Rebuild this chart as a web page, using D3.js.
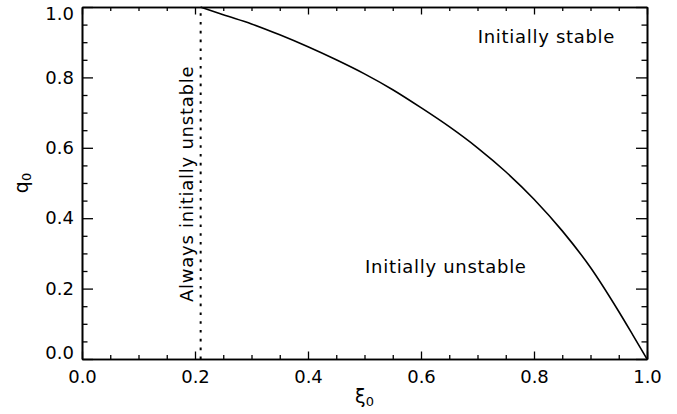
<!DOCTYPE html>
<html>
<head>
<meta charset="utf-8">
<script src="https://cdn.jsdelivr.net/npm/d3@7"></script>
<style>
  body { margin: 0; background: #fff; }
  text { font-family: "DejaVu Sans", sans-serif; fill: #000; }
</style>
</head>
<body>
<div id="chart"></div>
<script>
// Stability boundary q0(xi0)
const xiValues = [0.21, 0.25, 0.30, 0.35, 0.40, 0.45, 0.50, 0.55, 0.60, 0.65, 0.70, 0.75, 0.80, 0.85, 0.90, 0.95, 0.975, 1.00];
const qValues  = [1.00, 0.978, 0.952, 0.921, 0.887, 0.850, 0.810, 0.765, 0.714, 0.660, 0.600, 0.532, 0.454, 0.364, 0.260, 0.135, 0.068, 0.00];

// Vertical "always unstable" limit
const xiLimit = 0.21;

const majorTicks = [0, 0.2, 0.4, 0.6, 0.8, 1.0];
const minorTicks = d3.range(0, 1.0001, 0.05).filter(v => Math.abs(v * 5 - Math.round(v * 5)) > 1e-6);

const regionLabels = [
    {text: "Initially stable", xi: 0.822, q: 0.898},
    {text: "Initially unstable", xi: 0.644, q: 0.245}
];

const W = 677, H = 414;
const margin = {top: 7, right: 30, bottom: 55, left: 82},
    width = W - margin.left - margin.right,
    height = H - margin.top - margin.bottom;

const svg = d3.select("#chart")
    .append("svg")
    .attr("width", W)
    .attr("height", H)
    .append("g")
    .attr("transform", "translate(" + margin.left + "," + margin.top + ")");

const xScale = d3.scaleLinear().domain([0, 1]).range([0, width]);
const yScale = d3.scaleLinear().domain([0, 1]).range([height, 0]);

const fmt = d3.format(".1f");
const xMajor = 7.5, xMinor = 4, yMajor = 11, yMinor = 5.5;

// Bottom axis (labels) + minor
svg.append("g")
    .attr("transform", "translate(0," + height + ")")
    .call(d3.axisBottom(xScale).tickValues(majorTicks).tickFormat(fmt)
        .tickSizeInner(-xMajor).tickSizeOuter(0).tickPadding(11));
svg.append("g")
    .attr("transform", "translate(0," + height + ")")
    .call(d3.axisBottom(xScale).tickValues(minorTicks).tickFormat("")
        .tickSizeInner(-xMinor).tickSizeOuter(0));

// Top axis (no labels)
svg.append("g")
    .call(d3.axisTop(xScale).tickValues(majorTicks).tickFormat("")
        .tickSizeInner(-xMajor).tickSizeOuter(0));
svg.append("g")
    .call(d3.axisTop(xScale).tickValues(minorTicks).tickFormat("")
        .tickSizeInner(-xMinor).tickSizeOuter(0));

// Left axis (labels) + minor
const left = svg.append("g")
    .call(d3.axisLeft(yScale).tickValues(majorTicks).tickFormat(fmt)
        .tickSizeInner(-yMajor).tickSizeOuter(0).tickPadding(8));
svg.append("g")
    .call(d3.axisLeft(yScale).tickValues(minorTicks).tickFormat("")
        .tickSizeInner(-yMinor).tickSizeOuter(0));

// Right axis (no labels)
svg.append("g")
    .attr("transform", "translate(" + width + ",0)")
    .call(d3.axisRight(yScale).tickValues(majorTicks).tickFormat("")
        .tickSizeInner(-yMajor).tickSizeOuter(0));
svg.append("g")
    .attr("transform", "translate(" + width + ",0)")
    .call(d3.axisRight(yScale).tickValues(minorTicks).tickFormat("")
        .tickSizeInner(-yMinor).tickSizeOuter(0));

svg.selectAll(".domain").attr("stroke", "#000").attr("stroke-width", 1.6);
svg.selectAll(".tick line").attr("stroke", "#000").attr("stroke-width", 1.3);
svg.selectAll(".tick text")
    .style("font-family", "DejaVu Sans, sans-serif")
    .style("font-size", "18px")
    .attr("fill", "#000");

// keep end labels of the y axis inside the frame height
left.selectAll(".tick text")
    .attr("dy", d => d === 1 ? "0.68em" : d === 0 ? "-0.04em" : "0.32em");

// Dotted vertical line
svg.append("line")
    .attr("x1", xScale(xiLimit))
    .attr("x2", xScale(xiLimit))
    .attr("y1", yScale(0))
    .attr("y2", yScale(1))
    .attr("stroke", "#000")
    .attr("stroke-width", 2)
    .attr("stroke-dasharray", "2.6,6.2");

// Boundary curve
const line = d3.line()
    .x((d, i) => xScale(xiValues[i]))
    .y(d => yScale(d))
    .curve(d3.curveMonotoneX);

svg.append("path")
    .datum(qValues)
    .attr("fill", "none")
    .attr("stroke", "#000")
    .attr("stroke-width", 1.6)
    .attr("d", line);

// Region labels
svg.selectAll(".region")
    .data(regionLabels)
    .enter().append("text")
    .attr("class", "region")
    .attr("x", d => xScale(d.xi))
    .attr("y", d => yScale(d.q))
    .attr("text-anchor", "middle")
    .style("font-size", "18px")
    .style("letter-spacing", "0.7px")
    .text(d => d.text);

svg.append("text")
    .attr("transform", "translate(" + (xScale(xiLimit) - 8) + "," + (yScale(0) - 57) + ") rotate(-90)")
    .attr("text-anchor", "start")
    .style("font-size", "18px")
    .style("letter-spacing", "0.75px")
    .text("Always initially unstable");

// Axis titles
const xt = svg.append("text")
    .attr("x", width / 2)
    .attr("y", height + 44)
    .attr("text-anchor", "middle")
    .style("font-size", "19px");
xt.append("tspan").text("ξ");
xt.append("tspan").attr("dy", "0.25em").style("font-size", "13px").text("0");

const yt = svg.append("text")
    .attr("transform", "translate(" + (-54) + "," + (height / 2) + ") rotate(-90)")
    .attr("text-anchor", "middle")
    .style("font-size", "19px");
yt.append("tspan").text("q");
yt.append("tspan").attr("dy", "0.25em").style("font-size", "13px").text("0");
</script>
</body>
</html>
